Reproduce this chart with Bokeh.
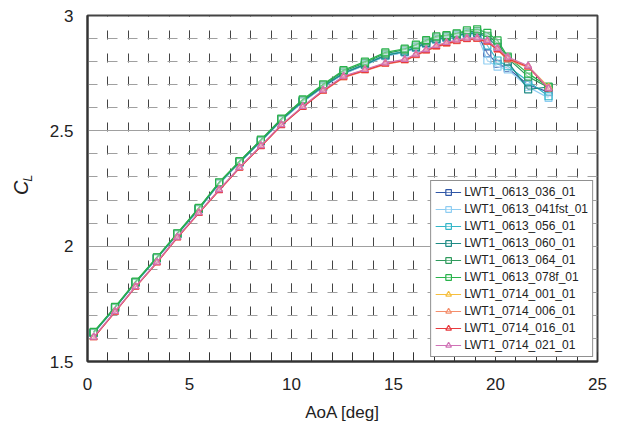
from bokeh.plotting import figure
from bokeh.models import Range1d, SingleIntervalTicker, Legend
from bokeh.layouts import row
from bokeh.core.properties import value
from bokeh.embed import file_html
from bokeh.resources import INLINE
import math

AOA = [0.3, 1.35, 2.35, 3.4, 4.4, 5.45, 6.45, 7.45, 8.5, 9.5, 10.55, 11.55, 12.55, 13.6,
       14.6, 15.55, 16.1, 16.6, 17.1, 17.6, 18.1, 18.6, 19.1, 19.6, 20.1, 20.6, 21.6, 22.6]

cl_0613_036 = [1.623, 1.732, 1.841, 1.947, 2.051, 2.160, 2.270, 2.362, 2.454, 2.545, 2.626, 2.690, 2.748, 2.786,
               2.825, 2.841, 2.860, 2.878, 2.895, 2.903, 2.911, 2.920, 2.922, 2.836, 2.790, 2.772, 2.700, 2.668]
cl_0613_041fst = [1.622, 1.731, 1.840, 1.946, 2.050, 2.159, 2.269, 2.361, 2.453, 2.544, 2.625, 2.689, 2.747, 2.785,
                  2.824, 2.840, 2.859, 2.877, 2.894, 2.902, 2.910, 2.918, 2.915, 2.805, 2.778, 2.766, 2.690, 2.643]
cl_0613_056 = [1.625, 1.734, 1.843, 1.949, 2.053, 2.162, 2.273, 2.365, 2.457, 2.548, 2.629, 2.693, 2.752, 2.789,
               2.829, 2.845, 2.864, 2.882, 2.899, 2.907, 2.915, 2.924, 2.926, 2.870, 2.805, 2.780, 2.715, 2.650]
cl_0613_060 = [1.624, 1.733, 1.842, 1.948, 2.052, 2.161, 2.272, 2.364, 2.456, 2.547, 2.628, 2.692, 2.750, 2.787,
               2.827, 2.843, 2.862, 2.880, 2.897, 2.905, 2.913, 2.922, 2.925, 2.905, 2.865, 2.800, 2.680, 2.690]
cl_0613_064 = [1.626, 1.735, 1.844, 1.950, 2.054, 2.164, 2.275, 2.367, 2.460, 2.551, 2.633, 2.698, 2.758, 2.795,
               2.835, 2.852, 2.870, 2.888, 2.905, 2.912, 2.920, 2.930, 2.932, 2.912, 2.880, 2.815, 2.735, 2.688]
cl_0613_078f = [1.628, 1.737, 1.846, 1.952, 2.056, 2.166, 2.277, 2.369, 2.462, 2.553, 2.636, 2.702, 2.763, 2.800,
                2.840, 2.856, 2.874, 2.893, 2.910, 2.915, 2.923, 2.936, 2.940, 2.925, 2.892, 2.822, 2.748, 2.692]
cl_0714_001 = [1.605, 1.716, 1.824, 1.930, 2.038, 2.144, 2.244, 2.341, 2.435, 2.526, 2.605, 2.676, 2.735, 2.765,
               2.793, 2.808, 2.831, 2.851, 2.868, 2.881, 2.892, 2.900, 2.901, 2.889, 2.856, 2.818, 2.780, 2.690]
cl_0714_006 = [1.604, 1.715, 1.823, 1.929, 2.037, 2.143, 2.242, 2.339, 2.433, 2.524, 2.603, 2.671, 2.730, 2.760,
               2.788, 2.803, 2.826, 2.846, 2.863, 2.876, 2.887, 2.895, 2.896, 2.884, 2.850, 2.808, 2.775, 2.686]
cl_0714_016 = [1.603, 1.714, 1.822, 1.928, 2.036, 2.142, 2.241, 2.338, 2.432, 2.523, 2.602, 2.673, 2.733, 2.762,
               2.790, 2.805, 2.828, 2.848, 2.865, 2.878, 2.889, 2.897, 2.898, 2.886, 2.852, 2.812, 2.778, 2.682]
cl_0714_021 = [1.606, 1.717, 1.825, 1.931, 2.039, 2.145, 2.245, 2.342, 2.436, 2.527, 2.606, 2.677, 2.737, 2.766,
               2.795, 2.810, 2.833, 2.852, 2.870, 2.883, 2.894, 2.902, 2.903, 2.891, 2.858, 2.820, 2.782, 2.684]

series_names = ["LWT1_0613_036_01", "LWT1_0613_041fst_01", "LWT1_0613_056_01", "LWT1_0613_060_01",
                "LWT1_0613_064_01", "LWT1_0613_078f_01", "LWT1_0714_001_01", "LWT1_0714_006_01",
                "LWT1_0714_016_01", "LWT1_0714_021_01"]
series_values = [cl_0613_036, cl_0613_041fst, cl_0613_056, cl_0613_060, cl_0613_064, cl_0613_078f,
                 cl_0714_001, cl_0714_006, cl_0714_016, cl_0714_021]
series_colors = ["#2f56a6", "#8ecdf2", "#34b6c8", "#1e8a84", "#2f9a5c", "#2ab34c",
                 "#f6bf3e", "#f48e6c", "#e83a3e", "#d072b6"]
series_markers = ["square"] * 6 + ["triangle"] * 4

FONT = "Liberation Sans"
LABEL_W = 40

p = figure(width=624 - LABEL_W, height=436, output_backend="svg", toolbar_location=None,
           x_range=Range1d(0, 25), y_range=Range1d(1.5, 3),
           min_border_left=87 - LABEL_W, min_border_right=27, min_border_top=15, min_border_bottom=75)

p.xaxis.ticker = SingleIntervalTicker(interval=5, num_minor_ticks=5)
p.yaxis.ticker = SingleIntervalTicker(interval=0.5, num_minor_ticks=5)

for ax in (p.xaxis[0], p.yaxis[0]):
    ax.axis_line_color = "#333333"
    ax.axis_line_width = 2
    ax.major_tick_in = 0
    ax.major_tick_out = 0
    ax.minor_tick_in = 0
    ax.minor_tick_out = 0
    ax.major_label_text_font = FONT
    ax.major_label_text_font_size = "17px"
    ax.major_label_text_color = "#222222"
    ax.axis_label_text_font = FONT
    ax.axis_label_text_font_size = "17px"
    ax.axis_label_text_font_style = "normal"
    ax.axis_label_text_color = "#222222"

p.xaxis.major_tick_in = 9
p.xaxis.minor_tick_in = 9
p.xaxis.major_tick_line_color = "#333333"
p.xaxis.minor_tick_line_color = "#333333"
p.xaxis.major_label_standoff = 16
p.xaxis.axis_label = "AoA [deg]"
p.xaxis.axis_label_standoff = 10
p.yaxis.major_label_standoff = 14
p.yaxis.axis_label = None

p.outline_line_color = "#444444"
p.outline_line_width = 2

p.xgrid.grid_line_color = "#444444"
p.xgrid.grid_line_dash = "9 14"
p.xgrid.grid_line_width = 1
p.xgrid.minor_grid_line_color = "#444444"
p.xgrid.minor_grid_line_dash = "9 14"
p.xgrid.minor_grid_line_width = 1

p.ygrid.grid_line_color = "#a0a0a0"
p.ygrid.grid_line_width = 1
p.ygrid.minor_grid_line_color = "#a0a0a0"
p.ygrid.minor_grid_line_dash = "10 10"
p.ygrid.minor_grid_line_width = 1

items = []
for name, vals, col, mk in zip(series_names, series_values, series_colors, series_markers):
    r1 = p.line(AOA, vals, line_color=col, line_width=1.2)
    r2 = p.scatter(AOA, vals, marker=mk, size=7, line_color=col, line_width=1.2,
                   fill_color="white", fill_alpha=0.3)
    items.append((name, [r1, r2]))

legend = Legend(items=items, location="bottom_right")
legend.label_text_font = FONT
legend.label_text_font_size = "12px"
legend.label_text_color = "#222222"
legend.glyph_width = 26
legend.glyph_height = 14
legend.label_height = 14
legend.spacing = 3
legend.padding = 4
legend.margin = 4
legend.label_standoff = 3
legend.border_line_color = "#222222"
legend.border_line_width = 1
legend.background_fill_color = "white"
legend.background_fill_alpha = 1
p.add_layout(legend)

# Side strip carrying the rotated y-axis title C_L (C with subscript L)
lab = figure(width=LABEL_W, height=436, output_backend="svg", toolbar_location=None,
             x_range=Range1d(0, LABEL_W), y_range=Range1d(0, 436),
             x_axis_type=None, y_axis_type=None, min_border=0)
lab.outline_line_color = None
lab.grid.visible = False
lab.text(x=[20], y=[436 - 217], text=["C"], angle=math.pi / 2, text_align="center",
         text_baseline="middle", text_font=value(FONT), text_font_size="20px",
         text_font_style="italic", text_color="#222222")
lab.text(x=[26.5], y=[436 - 205], text=["L"], angle=math.pi / 2, text_align="center",
         text_baseline="middle", text_font=value(FONT), text_font_size="13px",
         text_font_style="italic", text_color="#222222")

layout = row(lab, p, spacing=0)
open("out.html", "w").write(file_html(layout, INLINE))
